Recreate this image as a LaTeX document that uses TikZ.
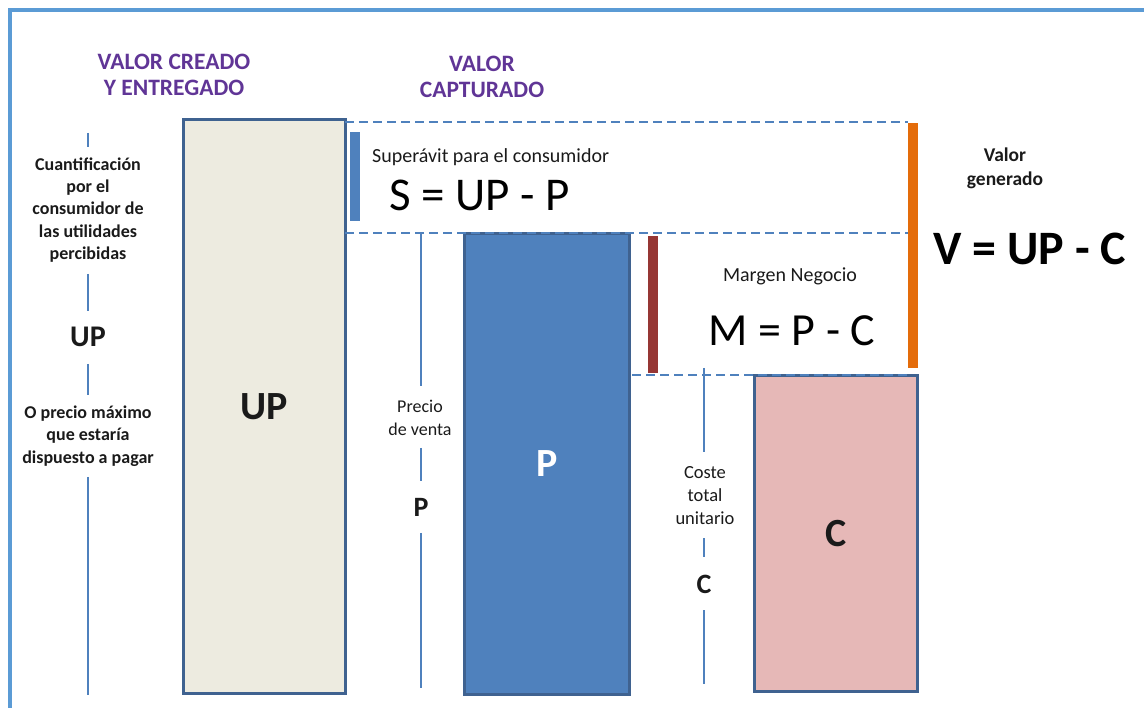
\documentclass[tikz,border=0pt]{standalone}
\usepackage{fontspec}
\setmainfont{Carlito}
\definecolor{frame}{HTML}{5B9BD5}
\definecolor{lblue}{HTML}{4F81BD}
\definecolor{bord}{HTML}{3F6290}
\definecolor{beige}{HTML}{EDEBE0}
\definecolor{pinkc}{HTML}{E6B8B7}
\definecolor{redbar}{HTML}{963634}
\definecolor{orbar}{HTML}{E46C0A}
\definecolor{purp}{HTML}{603596}
\definecolor{txt}{HTML}{1A1A1A}
\begin{document}
\begin{tikzpicture}[x=1pt,y=-1pt,
  bigbox/.style={draw=bord,line width=2.6pt,anchor=north west,inner sep=0,
    font=\fontsize{40}{40}\selectfont\bfseries},
  bar/.style={anchor=north west,inner sep=0,draw=none},
  small/.style={font=\fontsize{18}{22.3}\selectfont,align=center,text=txt,inner sep=0},
  smallb/.style={font=\fontsize{18}{22.3}\selectfont\bfseries,align=center,text=txt,inner sep=0},
  midb/.style={font=\fontsize{30}{30}\selectfont\bfseries,text=txt,inner sep=0},
  formula/.style={font=\fontsize{47}{47}\selectfont,text=black,inner sep=0},
  head/.style={font=\fontsize{23.5}{26}\selectfont\bfseries,text=purp,align=center,inner sep=0},
  vline/.style={draw=lblue,line width=1.3pt},
  dline/.style={draw=lblue,line width=1.3pt,dash pattern=on 9pt off 5pt}]
\useasboundingbox (0,0) rectangle (1144,708);
% frame
\draw[frame,line width=4pt] (9.5,708) -- (9.5,10) -- (1144,10);

% headings
\node[head] (h1) at (174,75) {VALOR CREADO\\Y ENTREGADO};
\node[head] (h2) at (482,77) {VALOR\\CAPTURADO};

% big boxes
\node[bigbox,fill=beige,text=txt,minimum width=162,minimum height=574] (up) at (182,118) {UP};
\node[bigbox,fill=lblue,text=white,minimum width=165,minimum height=461] (pb) at (463,232) {P};
\node[bigbox,fill=pinkc,text=txt,minimum width=163,minimum height=316] (cb) at (753,374) {C};

% bars
\node[bar,fill=lblue,minimum width=10,minimum height=89] (sbar) at (350,132) {};
\node[bar,fill=redbar,minimum width=10,minimum height=137] (mbar) at (648,236) {};
\node[bar,fill=orbar,minimum width=10,minimum height=245] (vbar) at (908,123) {};

% dashed guide lines
\coordinate (d1a) at (345,122);
\coordinate (d2a) at (345,233);
\coordinate (d3a) at (632,375);
\draw[dline] (d1a) -- (d1a -| vbar.west);
\draw[dline] (d2a) -- (d2a -| vbar.west);
\draw[dline] (d3a) -- (d3a -| vbar.west);

% texts
\node[font=\fontsize{20}{22}\selectfont,text=txt,inner sep=0,anchor=west] (sup) at (372,157) {Superávit para el consumidor};
\node[formula,anchor=west] (sf) at (389,195) {S = UP - P};
\node[font=\fontsize{20}{22}\selectfont,text=txt,inner sep=0] (mn) at (790,276) {Margen Negocio};
\node[formula,font=\fontsize{46}{46}\selectfont] (mf) at (792,331) {M = P - C};
\node[smallb,font=\fontsize{19.5}{24}\selectfont\bfseries] (vg) at (1005,168) {Valor\\generado};
\node[formula,font=\fontsize{48}{48}\selectfont\bfseries] (vf) at (1030,249) {V = UP - C};

% left column
\coordinate (l0) at (88,133);
\node[smallb] (q1) at (88,210) {Cuantificación\\por el\\consumidor de\\las utilidades\\percibidas};
\node[midb] (lup) at (88,337) {UP};
\node[smallb] (q2) at (88,436) {O precio máximo\\que estaría\\dispuesto a pagar};
\coordinate (l9) at (88,695);
\draw[vline] (l0) -- (88,147);
\draw[vline] (88,274) -- (lup.north |- 0,311);
\draw[vline] (lup.south |- 0,364) -- (88,395);
\draw[vline] (88,477) -- (l9);

% P column
\coordinate (p0) at (421,233);
\node[small] (pv) at (420,418) {Precio\\de venta};
\node[midb,font=\fontsize{28}{28}\selectfont\bfseries] (lp) at (421,507) {P};
\coordinate (p9) at (421,688);
\draw[vline] (p0) -- (421,386);
\draw[vline] (421,448) -- (421,481);
\draw[vline] (421,533) -- (p9);

% C column
\coordinate (c0) at (704,368);
\node[small,font=\fontsize{18.5}{23}\selectfont] (ct) at (705,496) {Coste\\total\\unitario};
\node[midb,font=\fontsize{28}{28}\selectfont\bfseries] (lc) at (704,584) {C};
\coordinate (c9) at (704,684);
\draw[vline] (c0) -- (704,452);
\draw[vline] (704,538) -- (704,557);
\draw[vline] (704,610) -- (c9);
\end{tikzpicture}
\end{document}
